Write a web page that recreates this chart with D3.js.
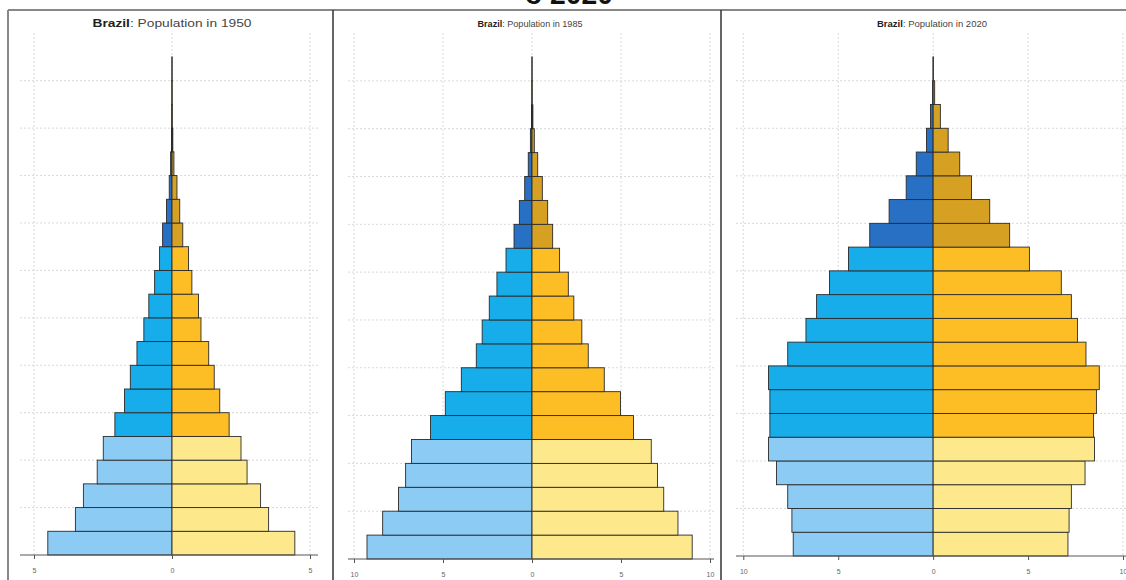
<!DOCTYPE html>
<html>
<head>
    <meta charset="utf-8">
    <title>Brazil population pyramids</title>
    <script type="text/javascript" src="https://cdn.jsdelivr.net/npm/d3@7"></script>
    <style>
        body { margin: 0; background: #fff; }
        svg text { font-family: "Liberation Sans", Arial, sans-serif; }
        .grid line { stroke: #d9d9d9; stroke-width: 1; stroke-dasharray: 2,2; }
        .axis path { display: none; }
        .axis line { stroke: #555; }
        .axis text { fill: #666; font-size: 7px; }
        .bar { stroke: #2b2b2b; stroke-width: 0.9; }
    </style>
</head>
<body>
<script type="text/javascript">

    var width = 1126,
        height = 580;

    var ageGroups = ["0-4","5-9","10-14","15-19","20-24","25-29","30-34","35-39","40-44","45-49",
                     "50-54","55-59","60-64","65-69","70-74","75-79","80-84","85-89","90-94","95-99","100+"];

    var years = [1950, 1985, 2020];

    // % of total population
    var male1950   = [4.50, 3.50, 3.21, 2.71, 2.49, 2.07, 1.72, 1.51, 1.27, 1.02, 0.84, 0.63, 0.45, 0.34, 0.20, 0.10, 0.05, 0.02, 0.01, 0.005, 0.002];
    var female1950 = [4.45, 3.50, 3.21, 2.72, 2.50, 2.07, 1.73, 1.53, 1.33, 1.05, 0.96, 0.72, 0.60, 0.39, 0.28, 0.18, 0.07, 0.03, 0.01, 0.005, 0.002];

    var male1985   = [9.27, 8.39, 7.50, 7.10, 6.77, 5.70, 4.87, 3.97, 3.13, 2.80, 2.40, 1.97, 1.46, 1.01, 0.71, 0.41, 0.21, 0.09, 0.03, 0.01, 0.003];
    var female1985 = [9.00, 8.20, 7.40, 7.05, 6.70, 5.70, 4.97, 4.06, 3.16, 2.80, 2.35, 2.04, 1.55, 1.16, 0.88, 0.58, 0.32, 0.13, 0.05, 0.01, 0.003];

    var male2020   = [7.37, 7.44, 7.66, 8.25, 8.67, 8.60, 8.60, 8.67, 7.66, 6.70, 6.14, 5.46, 4.46, 3.34, 2.32, 1.42, 0.89, 0.35, 0.14, 0.03, 0.005];
    var female2020 = [7.10, 7.16, 7.28, 8.00, 8.50, 8.45, 8.60, 8.75, 8.05, 7.60, 7.28, 6.75, 5.07, 4.03, 2.98, 2.02, 1.40, 0.79, 0.38, 0.08, 0.01];

    var ticks1950 = [-5, 0, 5];
    var ticks1985 = [-10, -5, 0, 5, 10];
    var ticks2020 = [-10, -5, 0, 5, 10];

    var maleSeries = [male1950, male1985, male2020];
    var femaleSeries = [female1950, female1985, female2020];
    var tickSets = [ticks1950, ticks1985, ticks2020];

    // panel geometry (not data)
    var layout = [
        {dom: [-5, 5],   range: [34, 310],    gx: [20, 318],   bottom: 555, top: 57, titleX: 172, titleW: 159, titleSize: 11.5},
        {dom: [-10, 10], range: [354, 710],   gx: [348, 714],  bottom: 559, top: 57, titleX: 530, titleW: 105, titleSize: 9.5},
        {dom: [-10, 10], range: [743.3, 1123], gx: [736, 1126], bottom: 556, top: 57, titleX: 932, titleW: 110, titleSize: 9.5}
    ];

    var maleColors = ["#8ccbf4", "#17adea", "#2770c3"],
        femaleColors = ["#fde98b", "#fdbe25", "#d6a123"];

    function colorIndex(i){
        if (i < 5) return 0;
        if (i < 13) return 1;
        return 2;
    }

    var svg = d3.select('body').append('svg')
        .attr('width', width)
        .attr('height', height);

    // cropped heading above the panels
    svg.append('text')
        .attr('x', 569)
        .attr('y', 4)
        .attr('text-anchor', 'middle')
        .attr('font-size', 30)
        .attr('font-weight', 'bold')
        .attr('fill', '#111')
        .attr('textLength', 88)
        .attr('lengthAdjust', 'spacingAndGlyphs')
        .text('o 2020');

    years.forEach(function(year, p){
        var L = layout[p];
        var males = maleSeries[p], females = femaleSeries[p];

        var x = d3.scaleLinear().domain(L.dom).range(L.range);
        var y = d3.scaleBand().domain(ageGroups).range([L.bottom, L.top]).padding(0);

        var g = svg.append('g');

        // grid
        var grid = g.append('g').classed('grid', true);
        grid.selectAll('line.v')
            .data(tickSets[p])
            .enter().append('line')
            .attr('class', 'v')
            .attr('x1', function(d){ return x(d); })
            .attr('x2', function(d){ return x(d); })
            .attr('y1', 33)
            .attr('y2', L.bottom);

        var gridAges = ageGroups.filter(function(d, i){ return i > 0 && i % 2 === 0; });
        grid.selectAll('line.h')
            .data(gridAges)
            .enter().append('line')
            .attr('class', 'h')
            .attr('x1', L.gx[0])
            .attr('x2', L.gx[1])
            .attr('y1', function(d){ return y(d) + y.bandwidth(); })
            .attr('y2', function(d){ return y(d) + y.bandwidth(); });

        // male bars (left)
        g.selectAll('rect.m')
            .data(males)
            .enter().append('rect')
            .attr('class', 'bar m')
            .attr('x', function(d){ return x(-d); })
            .attr('width', function(d){ return x(0) - x(-d); })
            .attr('y', function(d, i){ return y(ageGroups[i]); })
            .attr('height', y.bandwidth())
            .attr('fill', function(d, i){ return maleColors[colorIndex(i)]; });

        // female bars (right)
        g.selectAll('rect.f')
            .data(females)
            .enter().append('rect')
            .attr('class', 'bar f')
            .attr('x', x(0))
            .attr('width', function(d){ return x(d) - x(0); })
            .attr('y', function(d, i){ return y(ageGroups[i]); })
            .attr('height', y.bandwidth())
            .attr('fill', function(d, i){ return femaleColors[colorIndex(i)]; });

        // x axis
        g.append('line')
            .attr('x1', L.gx[0]).attr('x2', L.gx[1])
            .attr('y1', L.bottom).attr('y2', L.bottom)
            .attr('stroke', '#555').attr('stroke-width', 1);

        var axisX = d3.axisBottom(x)
            .tickValues(tickSets[p])
            .tickSize(4)
            .tickPadding(9)
            .tickFormat(function(d){ return Math.abs(d); });

        g.append('g')
            .classed('axis', true)
            .attr('transform', 'translate(0,' + L.bottom + ')')
            .call(axisX);

        // title
        var t = g.append('text')
            .attr('x', L.titleX)
            .attr('y', 27)
            .attr('text-anchor', 'middle')
            .attr('font-size', L.titleSize)
            .attr('textLength', L.titleW)
            .attr('lengthAdjust', 'spacingAndGlyphs');
        t.append('tspan').attr('font-weight', 'bold').attr('fill', '#222').text('Brazil');
        t.append('tspan').attr('fill', '#444').text(': Population in ' + year);
    });

    // frame
    svg.append('line').attr('x1', 8).attr('x2', width).attr('y1', 10).attr('y2', 10)
        .attr('stroke', '#888').attr('stroke-width', 2);
    svg.append('line').attr('x1', 8).attr('x2', 8).attr('y1', 10).attr('y2', height)
        .attr('stroke', '#888').attr('stroke-width', 2);
    [333, 721].forEach(function(px){
        svg.append('line').attr('x1', px).attr('x2', px).attr('y1', 10).attr('y2', height)
            .attr('stroke', '#333').attr('stroke-width', 1.5);
    });

</script>
</body>
</html>
